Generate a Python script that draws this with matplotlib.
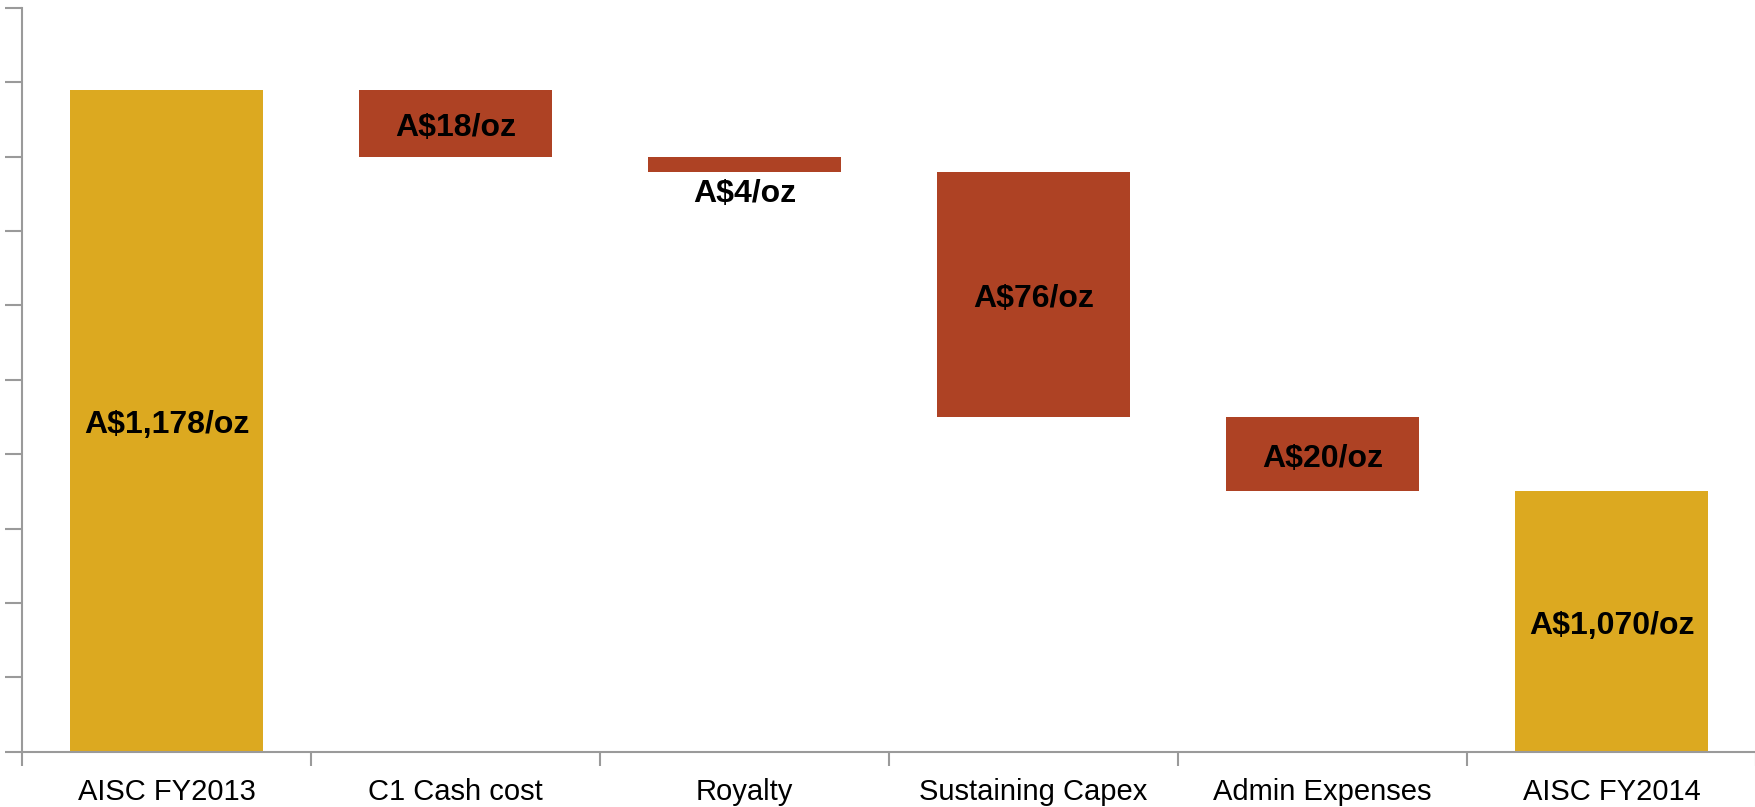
import matplotlib.pyplot as plt
from matplotlib.ticker import MultipleLocator

plt.rcParams["font.family"] = ["Liberation Sans", "DejaVu Sans"]

# Waterfall data (A$/oz) as drawn in the chart
categories = ["AISC FY2013", "C1 Cash cost", "Royalty", "Sustaining Capex",
              "Admin Expenses", "AISC FY2014"]
bar_tops = [1178, 1178, 1160, 1156, 1090, 1070]
bar_bottoms = [1000, 1160, 1156, 1090, 1070, 1000]
labels = ["A$1,178/oz", "A$18/oz", "A$4/oz", "A$76/oz", "A$20/oz", "A$1,070/oz"]
is_total = [True, False, False, False, False, True]

gold = "#DCA920"
red = "#AE4224"
axis_grey = "#9A9A9A"

fig = plt.figure(figsize=(17.56, 8.07), dpi=100)
ax = fig.add_axes([22 / 1756, 1 - 751.7 / 807, 1 - 22 / 1756, (751.7 - 8) / 807])

x = list(range(len(categories)))
heights = [t - b for t, b in zip(bar_tops, bar_bottoms)]
colors = [gold if tot else red for tot in is_total]
ax.bar(x, heights, bottom=bar_bottoms, width=0.667, color=colors, zorder=2)

# value labels
for i in x:
    if heights[i] < 8:
        # thin bar: label just below it
        ax.text(i, bar_bottoms[i] - 2.0, labels[i], ha="center", va="top",
                fontsize=23, fontweight="bold", color="black")
    else:
        ax.text(i, (bar_tops[i] + bar_bottoms[i]) / 2 - 1.2, labels[i],
                ha="center", va="center", fontsize=23, fontweight="bold",
                color="black")

ax.set_xlim(-0.5, len(categories) - 0.5)
ax.set_ylim(1000, 1200)

# y axis: ticks only, no labels
ax.yaxis.set_major_locator(MultipleLocator(20))
ax.tick_params(axis="y", which="major", length=12, width=1.5, color=axis_grey,
               labelleft=False)

# x axis: category names centred, tick marks between categories
ax.set_xticks(x)
ax.set_xticklabels(categories, fontsize=21)
ax.set_xticks([i - 0.5 for i in range(len(categories) + 1)], minor=True)
ax.tick_params(axis="x", which="major", length=0, pad=19)
ax.tick_params(axis="x", which="minor", length=10, width=1.5, color=axis_grey)

for side in ["top", "right"]:
    ax.spines[side].set_visible(False)
for side in ["left", "bottom"]:
    ax.spines[side].set_color(axis_grey)
    ax.spines[side].set_linewidth(1.5)

fig.savefig("out.png", dpi=100)
